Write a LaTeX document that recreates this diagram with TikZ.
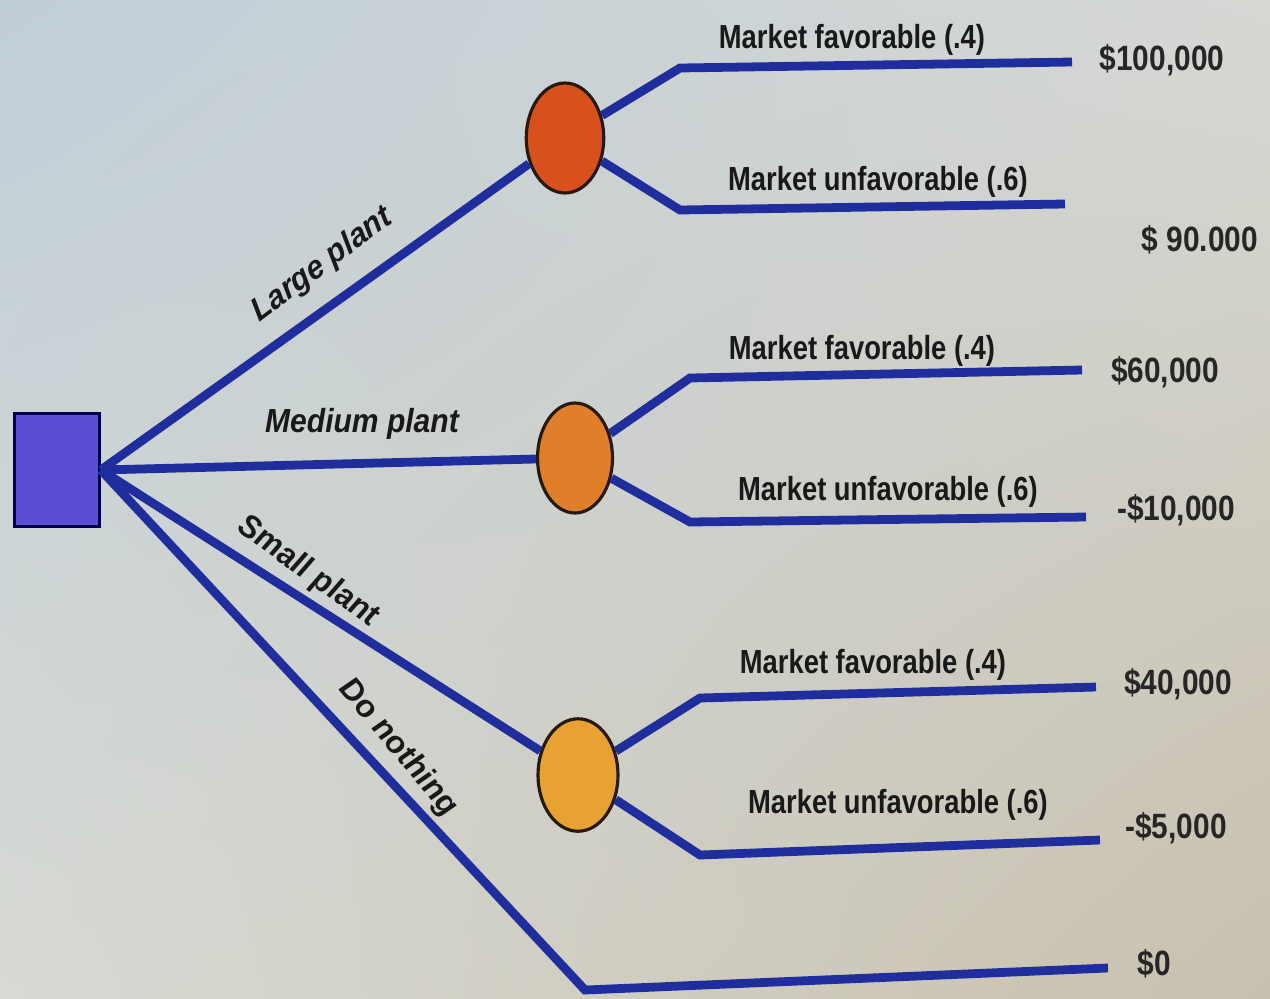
\documentclass[tikz,border=0pt]{standalone}
\usepackage{fontspec}
\setmainfont{Liberation Sans}
\usetikzlibrary{shapes.geometric,shadings}
\definecolor{linecol}{HTML}{1F2E9C}
\definecolor{sqfill}{HTML}{5A4FD2}
\definecolor{cA}{HTML}{D8501C}
\definecolor{cB}{HTML}{E07E2A}
\definecolor{cC}{HTML}{E8A232}
\definecolor{bgUL}{RGB}{192,206,216}
\definecolor{bgUR}{RGB}{214,216,212}
\definecolor{bgLL}{RGB}{216,218,212}
\definecolor{bgLR}{RGB}{200,192,174}
\tikzset{
  branch/.style={draw=linecol, line width=5pt},
  chance/.style={ellipse, draw=black!80!brown, line width=1.8pt, inner sep=0pt},
  lbl/.style={font=\fontsize{19}{22}\selectfont\bfseries, text=black!90, xscale=0.82, inner sep=0pt},
  ilbl/.style={font=\fontsize{19}{22}\selectfont\bfseries\itshape, text=black!90, xscale=0.9, inner sep=0pt},
  val/.style={font=\fontsize{20}{24}\selectfont\bfseries, text=black!85, xscale=0.85, inner sep=0pt},
}
\begin{document}
\begin{tikzpicture}[x=0.02cm,y=-0.02cm]
\useasboundingbox (0,0) rectangle (1270,998);
\shade[upper left=bgUL, upper right=bgUR, lower left=bgLL, lower right=bgLR]
  (0,0) rectangle (1270,998);
% nodes
\node[draw=black!70!blue, line width=1.6pt, fill=sqfill, minimum width=1.7cm, minimum height=2.25cm, inner sep=0pt] (sq) at (57,470) {};
\node[chance, fill=cA, minimum width=1.55cm, minimum height=2.2cm] (c1) at (565,138) {};
\node[chance, fill=cB, minimum width=1.5cm, minimum height=2.2cm] (c2) at (575,458) {};
\node[chance, fill=cC, minimum width=1.6cm, minimum height=2.25cm] (c3) at (578,775) {};
% coordinates
\coordinate (k1a) at (680,68);  \coordinate (e1a) at (1072,62);
\coordinate (k1b) at (680,210); \coordinate (e1b) at (1065,204);
\coordinate (k2a) at (690,378); \coordinate (e2a) at (1082,370);
\coordinate (k2b) at (690,522); \coordinate (e2b) at (1086,517);
\coordinate (k3a) at (700,698); \coordinate (e3a) at (1096,687);
\coordinate (k3b) at (700,855); \coordinate (e3b) at (1100,840);
\coordinate (k4) at (585,990);  \coordinate (e4) at (1108,968);
% connectors
\draw[branch] (sq.east) -- (c1);
\draw[branch] (sq.east) -- (c2);
\draw[branch] (sq.east) -- (c3);
\draw[branch] (sq.east) -- (k4) -- (e4);
\draw[branch] (c1) -- (k1a) -- (e1a);
\draw[branch] (c1) -- (k1b) -- (e1b);
\draw[branch] (c2) -- (k2a) -- (e2a);
\draw[branch] (c2) -- (k2b) -- (e2b);
\draw[branch] (c3) -- (k3a) -- (e3a);
\draw[branch] (c3) -- (k3b) -- (e3b);
% branch labels
\node[ilbl, rotate=34] (tLarge) at (322,265) {Large plant};
\node[ilbl] (tMed) at (362,424) {Medium plant};
\node[ilbl, rotate=-33] (tSmall) at (308,572) {Small plant};
\node[ilbl, rotate=-47] (tNone) at (398,748) {Do nothing};
% outcome labels
\node[lbl] (l1a) at (852,40) {Market favorable (.4)};
\node[lbl] (l1b) at (878,182) {Market unfavorable (.6)};
\node[lbl] (l2a) at (862,351) {Market favorable (.4)};
\node[lbl] (l2b) at (888,492) {Market unfavorable (.6)};
\node[lbl] (l3a) at (873,665) {Market favorable (.4)};
\node[lbl] (l3b) at (898,805) {Market unfavorable (.6)};
% values
\node[val] (v1) at (1162,60) {\$100,000};
\node[val] (v2) at (1200,240) {\$ 90.000};
\node[val] (v3) at (1165,372) {\$60,000};
\node[val] (v4) at (1176,510) {-\$10,000};
\node[val] (v5) at (1178,684) {\$40,000};
\node[val] (v6) at (1176,828) {-\$5,000};
\node[val] (v7) at (1154,964) {\$0};
\end{tikzpicture}
\end{document}
